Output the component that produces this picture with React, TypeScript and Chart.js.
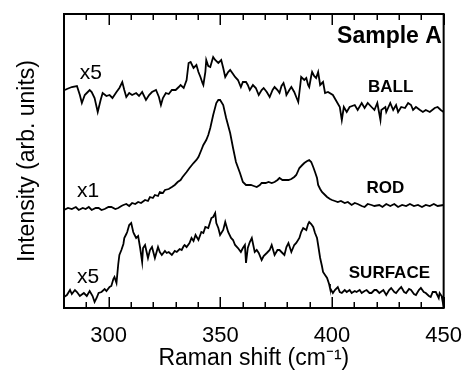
import React, { useEffect, useRef } from 'react';
import { Chart, registerables } from 'chart.js';

Chart.register(...registerables);

// Raman shift (cm-1) and intensity (arb. units, offset traces)
const ballShift = [280.4, 281.3, 283.5, 285.8, 287.1, 288.0, 289.3, 290.2, 291.5, 292.4, 293.7, 295.1, 296.4, 297.3, 299.0, 300.4, 301.7, 303.5, 304.8, 306.1, 307.0, 307.9, 309.2, 310.5, 312.3, 313.6, 315.0, 316.7, 318.1, 319.4, 321.2, 322.5, 323.4, 324.3, 325.6, 326.9, 328.3, 330.0, 331.4, 332.2, 333.6, 334.9, 335.8, 336.7, 338.0, 339.3, 340.2, 341.1, 342.0, 342.4, 343.3, 343.7, 344.6, 345.5, 346.4, 346.8, 347.7, 349.1, 350.4, 351.3, 352.2, 353.5, 354.4, 355.7, 356.6, 357.9, 359.2, 360.1, 361.5, 362.3, 363.2, 364.6, 365.9, 367.2, 368.5, 369.4, 370.8, 372.1, 373.4, 374.3, 375.6, 376.5, 377.4, 378.3, 379.2, 379.6, 380.9, 381.8, 383.1, 384.0, 384.9, 385.8, 386.2, 387.6, 388.5, 389.3, 389.8, 390.7, 391.1, 392.0, 392.9, 393.8, 394.7, 396.0, 396.9, 398.2, 400.4, 402.2, 403.5, 404.4, 405.3, 406.6, 407.9, 410.2, 411.5, 413.3, 414.6, 416.0, 417.7, 419.0, 420.3, 421.7, 422.1, 423.9, 424.3, 426.1, 427.4, 428.7, 429.6, 431.0, 432.7, 434.1, 435.4, 436.3, 437.6, 439.4, 440.7, 442.0, 443.8, 446.0, 447.3, 448.7, 450.0];
const ballIntensity = [218, 219, 221, 222, 213, 205, 213, 215, 218, 216, 210, 196, 208, 215, 212, 213, 210, 216, 220, 226, 218, 211, 215, 213, 215, 212, 216, 208, 213, 216, 218, 211, 203, 210, 215, 214, 218, 218, 221, 223, 220, 228, 245, 246, 240, 243, 236, 231, 225, 223, 236, 248, 242, 241, 248, 251, 248, 245, 248, 240, 231, 236, 238, 234, 231, 228, 221, 226, 226, 223, 218, 223, 220, 213, 218, 220, 216, 211, 218, 221, 218, 215, 222, 225, 218, 213, 218, 221, 216, 211, 206, 223, 231, 228, 230, 223, 221, 232, 236, 232, 230, 236, 223, 226, 215, 216, 213, 206, 201, 188, 201, 196, 201, 203, 198, 205, 200, 205, 201, 198, 205, 188, 198, 201, 196, 205, 198, 203, 196, 201, 200, 205, 203, 198, 201, 198, 196, 198, 196, 200, 201, 198, 196];

const rodShift = [280.0, 281.8, 283.5, 285.3, 286.6, 288.4, 289.7, 291.1, 292.4, 294.2, 295.5, 296.8, 298.2, 299.9, 301.2, 303.0, 304.3, 305.7, 306.6, 307.9, 309.2, 310.5, 311.9, 313.2, 314.5, 316.3, 317.6, 318.5, 319.8, 320.7, 322.1, 322.9, 324.3, 325.2, 326.9, 328.3, 329.6, 330.9, 332.2, 333.1, 334.9, 336.2, 338.0, 339.3, 340.2, 341.5, 342.4, 343.7, 344.6, 345.5, 346.8, 348.2, 349.1, 349.9, 351.3, 352.6, 354.4, 355.7, 357.0, 358.8, 360.1, 361.5, 363.7, 365.0, 366.3, 367.7, 368.5, 370.3, 371.6, 373.0, 374.3, 375.6, 376.5, 377.8, 378.7, 380.5, 381.8, 383.1, 384.0, 385.4, 386.7, 387.6, 388.9, 389.8, 390.7, 391.6, 392.4, 393.3, 393.8, 394.7, 395.5, 396.9, 397.8, 399.1, 400.0, 401.3, 402.6, 404.0, 405.7, 407.1, 408.8, 410.2, 411.5, 413.3, 414.6, 416.0, 417.7, 419.0, 421.2, 422.6, 424.3, 426.1, 427.9, 429.6, 431.4, 433.2, 434.9, 436.7, 438.5, 440.3, 442.0, 443.8, 445.6, 447.3, 450.0];
const rodIntensity = [98, 100, 99, 101, 98, 100, 99, 101, 98, 100, 100, 98, 99, 101, 101, 99, 100, 102, 103, 104, 102, 105, 104, 106, 105, 108, 107, 111, 110, 113, 112, 116, 115, 118, 119, 121, 123, 126, 128, 131, 136, 140, 145, 148, 151, 158, 163, 168, 173, 180, 193, 205, 208, 208, 203, 190, 175, 160, 146, 135, 126, 123, 123, 122, 121, 123, 125, 125, 126, 125, 126, 128, 130, 128, 128, 128, 129, 131, 133, 140, 143, 145, 147, 148, 146, 141, 136, 130, 123, 119, 116, 113, 111, 109, 108, 107, 106, 107, 105, 106, 103, 105, 104, 102, 101, 104, 103, 102, 103, 101, 104, 102, 104, 101, 103, 102, 104, 102, 103, 101, 103, 102, 104, 102, 103];

const surfaceShift = [280.0, 281.3, 282.7, 283.5, 284.9, 285.8, 287.1, 288.9, 290.2, 291.5, 292.8, 293.7, 294.6, 295.5, 296.8, 298.2, 299.0, 300.4, 301.2, 302.1, 302.6, 303.5, 304.3, 304.8, 305.7, 306.6, 307.0, 307.9, 308.3, 309.2, 310.1, 311.0, 311.4, 312.3, 313.2, 314.1, 315.0, 315.4, 316.3, 317.6, 318.5, 319.4, 320.7, 322.1, 322.9, 323.8, 325.2, 326.0, 326.9, 328.3, 329.6, 330.5, 331.8, 332.7, 333.6, 334.0, 334.9, 336.2, 337.1, 338.0, 338.9, 340.2, 341.5, 342.4, 343.3, 344.6, 346.0, 346.8, 347.7, 348.2, 349.1, 349.9, 351.3, 352.2, 353.5, 354.8, 355.7, 356.6, 357.9, 359.2, 360.1, 361.0, 361.5, 362.3, 363.2, 364.1, 365.4, 366.3, 367.2, 368.5, 369.4, 370.8, 372.1, 373.0, 374.3, 375.6, 376.5, 377.8, 378.7, 379.6, 380.5, 381.8, 383.1, 384.0, 385.4, 386.2, 387.1, 388.5, 389.3, 389.8, 390.7, 391.6, 392.4, 393.3, 393.8, 394.7, 395.5, 396.0, 396.9, 397.8, 398.7, 399.1, 400.4, 401.3, 402.6, 403.5, 404.4, 405.7, 406.6, 407.9, 408.8, 410.2, 411.0, 412.4, 413.3, 414.6, 415.5, 416.8, 417.7, 419.0, 419.9, 421.2, 423.0, 424.3, 425.6, 426.5, 427.9, 428.7, 430.1, 431.0, 432.3, 433.2, 434.5, 435.4, 436.7, 437.6, 438.9, 439.8, 441.1, 442.0, 443.4, 444.2, 445.1, 446.5, 447.8, 448.2, 449.1, 449.6, 450.0];
const surfaceIntensity = [11, 13, 18, 14, 18, 16, 12, 15, 12, 17, 12, 6, 10, 15, 16, 19, 17, 21, 22, 29, 31, 25, 44, 53, 58, 64, 70, 74, 76, 83, 85, 76, 74, 70, 72, 60, 46, 60, 63, 50, 58, 61, 50, 61, 56, 53, 57, 55, 56, 53, 57, 56, 59, 58, 62, 63, 61, 65, 70, 67, 73, 68, 76, 75, 81, 80, 90, 91, 95, 85, 80, 73, 78, 86, 76, 70, 68, 63, 60, 56, 60, 63, 45, 60, 66, 70, 56, 58, 55, 48, 52, 55, 58, 63, 53, 58, 58, 55, 53, 61, 65, 56, 63, 65, 70, 76, 80, 78, 84, 86, 84, 81, 75, 70, 63, 50, 42, 36, 33, 30, 24, 20, 15, 18, 21, 16, 15, 18, 16, 18, 15, 17, 16, 18, 15, 17, 18, 15, 15, 18, 18, 15, 18, 13, 18, 20, 16, 15, 19, 21, 16, 15, 19, 18, 14, 13, 18, 20, 16, 15, 12, 11, 16, 16, 10, 15, 12, 6, 12];

const majorTicks = [300, 350, 400, 450];
const minorTicks = [290, 310, 320, 330, 340, 360, 370, 380, 390, 410, 420, 430, 440];

const scaleLabels = ['x5', 'x1', 'x5'];
const sampleLabels = ['BALL', 'ROD', 'SURFACE'];
const panelTitle = 'Sample A';

const FONT = '"Liberation Sans", Arial, Helvetica, sans-serif';

const toPoints = (xs: number[], ys: number[]) => xs.map((x, i) => ({ x, y: ys[i] }));

const decorPlugin = {
  id: 'decor',
  afterDraw(chart: any) {
    const ctx: CanvasRenderingContext2D = chart.ctx;
    const a = chart.chartArea;
    const xs = chart.scales.x;
    const ys = chart.scales.y;
    ctx.save();
    ctx.strokeStyle = '#000000';
    ctx.lineWidth = 2;
    ctx.strokeRect(a.left, a.top, a.right - a.left, a.bottom - a.top);

    ctx.lineWidth = 1.5;
    const all = majorTicks.concat(minorTicks);
    for (let k = 0; k < all.length; k++) {
      const t = all[k];
      const px = Math.round(xs.getPixelForValue(t)) + 0.25;
      const len = majorTicks.indexOf(t) >= 0 ? 11 : 6;
      ctx.beginPath();
      ctx.moveTo(px, a.bottom);
      ctx.lineTo(px, a.bottom - len);
      ctx.moveTo(px, a.top);
      ctx.lineTo(px, a.top + len);
      ctx.stroke();
    }

    ctx.fillStyle = '#000000';
    ctx.textBaseline = 'alphabetic';
    ctx.font = `21px ${FONT}`;
    ctx.textAlign = 'left';
    const multPos = [
      [287.1, 229],
      [285.8, 111],
      [285.8, 25],
    ];
    scaleLabels.forEach((s, i) => {
      ctx.fillText(s, xs.getPixelForValue(multPos[i][0]), ys.getPixelForValue(multPos[i][1]));
    });
    ctx.font = `bold 17px ${FONT}`;
    ctx.textAlign = 'center';
    const samplePos = [
      [426.3, 216],
      [423.9, 115],
      [425.7, 30],
    ];
    sampleLabels.forEach((s, i) => {
      ctx.fillText(s, xs.getPixelForValue(samplePos[i][0]), ys.getPixelForValue(samplePos[i][1]));
    });
    ctx.font = `bold 23px ${FONT}`;
    ctx.textAlign = 'right';
    ctx.fillText(panelTitle, xs.getPixelForValue(449.2), ys.getPixelForValue(265));
    ctx.restore();
  },
};

export default function App() {
  const ref = useRef<HTMLCanvasElement | null>(null);
  useEffect(() => {
    document.body.style.margin = '0';
    if (!ref.current) return;
    const line = (xs: number[], ys: number[]) => ({
      data: toPoints(xs, ys),
      borderColor: '#000',
      borderWidth: 1.8,
      pointRadius: 0,
      fill: false,
      tension: 0,
    });
    const chart = new Chart(ref.current, {
      type: 'line',
      data: {
        datasets: [
          line(ballShift, ballIntensity),
          line(rodShift, rodIntensity),
          line(surfaceShift, surfaceIntensity),
        ],
      },
      options: {
        animation: false,
        responsive: false,
        devicePixelRatio: 1,
        layout: { padding: { top: 14, right: 21, left: 0, bottom: 0 } },
        plugins: { legend: { display: false }, tooltip: { enabled: false } },
        scales: {
          x: {
            type: 'linear',
            min: 280,
            max: 450,
            grid: { display: false },
            border: { display: false },
            afterBuildTicks: (s: any) => {
              s.ticks = majorTicks.map((v) => ({ value: v }));
            },
            afterFit: (s: any) => {
              s.height = 64;
            },
            ticks: {
              color: '#000',
              font: { family: FONT, size: 22 },
              padding: 7,
              maxRotation: 0,
              autoSkip: false,
              callback: (v: any) => String(v),
            },
            title: {
              display: true,
              text: 'Raman shift (cm⁻¹)',
              color: '#000',
              font: { family: FONT, size: 23 },
              padding: { top: 0, bottom: 0 },
            },
          },
          y: {
            type: 'linear',
            min: 0,
            max: 294,
            grid: { display: false },
            border: { display: false },
            ticks: { display: false },
            afterFit: (s: any) => {
              s.width = 64;
            },
            title: {
              display: true,
              text: 'Intensity (arb. units)',
              color: '#000',
              font: { family: FONT, size: 23 },
              padding: { top: 14, bottom: 0 },
            },
          },
        },
      },
      plugins: [decorPlugin],
    });
    return () => chart.destroy();
  }, []);
  return <canvas ref={ref} width={469} height={372} style={{ display: 'block' }} />;
}
